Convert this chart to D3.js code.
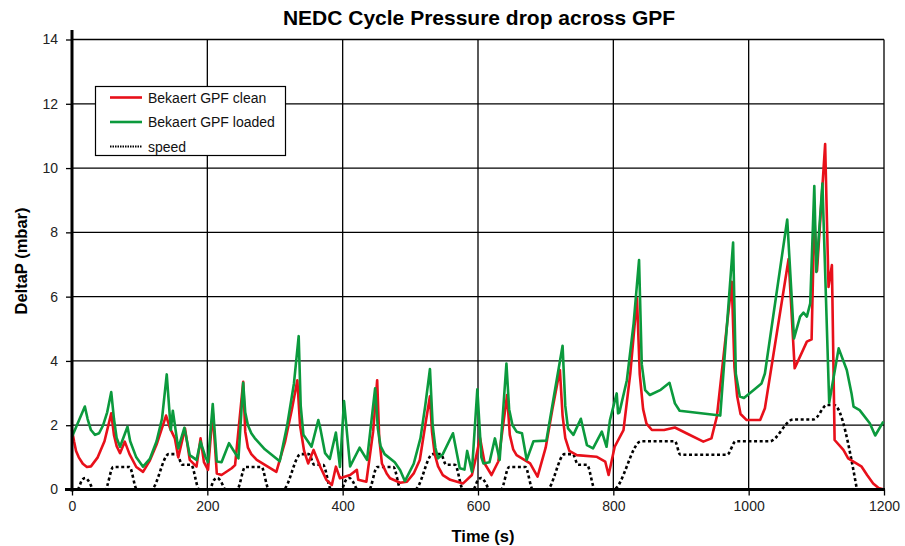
<!DOCTYPE html>
<html>
<head>
<meta charset="utf-8">
<script src="https://cdn.jsdelivr.net/npm/d3@7"></script>
<style>
  html, body { margin: 0; padding: 0; background: #fff; }
  svg { display: block; font-family: "Liberation Sans", Arial, Helvetica, sans-serif; }
</style>
</head>
<body>
<svg id="chart" width="905" height="546"></svg>
<script>
// ---- data (time in s, deltaP in mbar) ----
const cleanT = [0,3,6,10,16,22,28,38,48,58,62,66,71,78,85,95,105,115,125,132,139,145,152,157,167,174,184,190,195,201,208,214,221,236,241,253,256,260,265,273,302,315,325,333,337,343,349,357,367,376,384,390,396,411,421,423,435,445,451,454,458,465,470,485,495,505,514,522,529,532,536,541,548,559,578,591,597,603,610,620,630,643,647,652,657,677,688,700,710,721,725,729,735,746,775,788,793,802,815,825,835,839,844,849,857,875,891,908,933,945,953,975,979,983,988,997,1017,1024,1059,1068,1086,1093,1097,1101,1113,1118,1123,1127,1140,1147,1167,1175,1184,1192,1200];
const cleanV = [1.85,1.5,1.2,1.0,0.8,0.7,0.72,1.0,1.5,2.37,1.7,1.35,1.13,1.49,1.1,0.7,0.55,0.9,1.4,1.85,2.3,1.9,1.59,1.0,1.9,0.92,0.71,1.59,0.85,0.61,2.4,0.5,0.45,0.66,0.76,3.35,1.8,1.3,1.1,0.92,0.55,1.5,2.5,3.4,2.0,1.2,0.81,1.23,0.7,0.3,0.14,0.71,0.35,0.45,0.61,0.3,0.24,1.8,3.4,1.6,0.81,0.5,0.35,0.21,0.24,0.5,0.92,2.0,2.9,1.8,1.1,0.72,0.45,0.3,0.19,0.45,1.0,1.6,0.8,0.45,0.87,2.94,1.7,1.25,1.07,0.81,0.4,1.3,2.5,3.72,2.3,1.6,1.2,1.07,1.02,0.87,0.45,1.33,1.85,3.6,5.95,3.6,2.5,2.05,1.85,1.85,1.93,1.75,1.49,1.59,2.27,6.46,3.8,2.9,2.35,2.16,2.16,2.53,7.17,3.77,4.6,4.67,8.5,6.8,10.75,6.3,6.98,1.54,1.23,0.97,0.71,0.45,0.19,0.05,0.0];

const loadedT = [0,19,23,28,34,40,46,52,58,62,66,71,82,86,95,105,115,125,133,140,146,149,157,166,174,184,190,197,201,208,214,221,232,246,253,256,260,265,270,285,307,318,328,335,338,342,354,364,367,374,381,390,396,402,411,425,436,448,452,456,462,477,485,492,505,515,522,529,533,537,541,548,563,573,580,584,591,599,605,608,617,625,632,642,646,651,657,665,672,682,701,713,725,729,733,741,752,761,770,783,790,795,805,807,809,820,830,838,842,847,854,870,883,891,898,958,977,981,987,993,1007,1019,1024,1057,1067,1076,1081,1086,1091,1097,1100,1109,1119,1133,1145,1152,1155,1164,1179,1187,1199];
const loadedV = [1.64,2.58,2.2,1.85,1.7,1.75,2.0,2.4,3.03,2.2,1.6,1.33,1.95,1.5,1.0,0.71,0.95,1.5,2.2,3.58,1.85,2.45,1.28,1.92,1.07,0.92,1.49,1.02,0.85,2.66,0.87,0.85,1.44,0.97,3.32,2.4,2.0,1.75,1.6,1.25,0.88,2.0,3.3,4.77,2.6,1.7,1.33,2.16,1.9,1.13,0.95,1.77,0.7,2.75,0.72,1.3,0.92,3.15,1.9,1.35,1.1,0.85,0.6,0.26,0.8,1.6,2.6,3.75,2.0,1.3,0.97,1.1,1.75,0.66,0.62,1.2,0.55,3.12,1.0,0.81,0.85,1.59,0.92,3.92,2.5,2.0,1.8,1.75,0.92,1.5,1.52,3.0,4.47,2.6,1.9,1.7,2.2,1.38,1.28,1.8,1.33,2.16,2.99,2.37,2.4,3.4,5.17,7.14,3.9,3.09,2.94,3.1,3.32,2.68,2.45,2.3,7.68,3.6,2.89,2.85,3.09,3.3,3.61,8.4,4.7,5.38,5.5,5.38,5.79,9.44,6.77,9.52,2.7,4.39,3.72,2.99,2.58,2.47,2.06,1.68,2.11];

const speedT = [0,8,15,20,25,32,49,61,85,96,117,143,155,163,176,188,
                203,210,215,220,227,244,256,280,291,312,338,350,358,371,383,
                398,405,410,415,422,439,451,475,486,507,533,545,553,566,578,
                593,600,605,610,617,634,646,670,681,702,728,740,748,761,773,
                800,841,891,899,968,981,1031,1066,1096,1116,1126,1160];
const speedV = [0,0,0.3,0.36,0.25,0,0,0.7,0.7,0,0,1.1,1.1,0.77,0.77,0,
                0,0.3,0.36,0.25,0,0,0.7,0.7,0,0,1.1,1.1,0.77,0.77,0,
                0,0.3,0.36,0.25,0,0,0.7,0.7,0,0,1.1,1.1,0.77,0.77,0,
                0,0.3,0.36,0.25,0,0,0.7,0.7,0,0,1.1,1.1,0.77,0.77,0,
                0,1.5,1.5,1.08,1.08,1.5,1.5,2.18,2.18,2.63,2.63,0];

const xTicks = [0,200,400,600,800,1000,1200];
const yTicks = [0,2,4,6,8,10,12,14];
const seriesNames = ["Bekaert GPF clean","Bekaert GPF loaded","speed"];
const titleText = "NEDC Cycle Pressure drop across GPF";
const xLabel = "Time (s)";
const yLabel = "DeltaP (mbar)";

// ---- drawing ----
const svg = d3.select("#chart");
const L = 72, R = 884, T = 39.5, B = 489.5;
const x = d3.scaleLinear().domain([0,1200]).range([L,R]);
const y = d3.scaleLinear().domain([0,14]).range([B,T]);

const RED = "#e8101a", GREEN = "#0b9a3d";

// grid
const grid = svg.append("g");
grid.selectAll("line.gx").data(xTicks.filter(d=>d>0)).enter().append("line")
  .attr("x1", d=>x(d)).attr("x2", d=>x(d)).attr("y1", T).attr("y2", B)
  .attr("stroke", "#000").attr("stroke-width", 1.3);
grid.selectAll("line.gy").data(yTicks.filter(d=>d>0)).enter().append("line")
  .attr("x1", L).attr("x2", R).attr("y1", d=>y(d)).attr("y2", d=>y(d))
  .attr("stroke", "#000").attr("stroke-width", 1.3);

// axes
const xAxis = d3.axisBottom(x).tickValues(xTicks).tickSize(6).tickPadding(6).tickFormat(d3.format("d"));
const yAxis = d3.axisLeft(y).tickValues(yTicks).tickSize(6).tickPadding(8).tickFormat(d3.format("d"));
const gx = svg.append("g").attr("transform", `translate(0,${B})`).call(xAxis);
const gy = svg.append("g").attr("transform", `translate(${L},0)`).call(yAxis);
[gx, gy].forEach(g => {
  g.select(".domain").remove();
  g.selectAll(".tick line").attr("stroke", "#000").attr("stroke-width", 1.3);
  g.selectAll(".tick text").attr("fill", "#222").style("font-size", "14px")
    .style("font-family", "'Liberation Sans', Arial, sans-serif");
});

// lines
const mk = (T_, V_) => T_.map((t,i)=>({t, v:V_[i]}));
const smooth = d3.line().x(d=>x(d.t)).y(d=>y(d.v)).curve(d3.curveMonotoneX);
const lin = d3.line().x(d=>x(d.t)).y(d=>y(d.v)).curve(d3.curveLinear);

svg.append("path").datum(mk(speedT, speedV)).attr("d", smooth)
  .attr("fill","none").attr("stroke","#000").attr("stroke-width",2.6)
  .attr("stroke-dasharray","3,2.6");
svg.append("path").datum(mk(cleanT, cleanV)).attr("d", lin)
  .attr("fill","none").attr("stroke",RED).attr("stroke-width",2.6).attr("stroke-linejoin","round");
svg.append("path").datum(mk(loadedT, loadedV)).attr("d", lin)
  .attr("fill","none").attr("stroke",GREEN).attr("stroke-width",2.6).attr("stroke-linejoin","round");

// axis lines (thick)
svg.append("line").attr("x1", L).attr("x2", L).attr("y1", 30).attr("y2", B+2)
  .attr("stroke","#000").attr("stroke-width",3);
svg.append("line").attr("x1", 65).attr("x2", R+1).attr("y1", B).attr("y2", B)
  .attr("stroke","#000").attr("stroke-width",3);

// legend
const lg = svg.append("g");
lg.append("rect").attr("x",95.5).attr("y",86.5).attr("width",190).attr("height",69)
  .attr("fill","#fff").attr("stroke","#000").attr("stroke-width",1.2);
const legendStyles = [
  {c:RED, w:2.6, dash:null},
  {c:GREEN, w:2.6, dash:null},
  {c:"#000", w:2.2, dash:"1.5,1"}
];
seriesNames.forEach((name,i)=>{
  const yy = 97.5 + i*24.5;
  const ln = lg.append("line").attr("x1",110).attr("x2",142).attr("y1",yy).attr("y2",yy)
    .attr("stroke",legendStyles[i].c).attr("stroke-width",legendStyles[i].w);
  if (legendStyles[i].dash) ln.attr("stroke-dasharray",legendStyles[i].dash);
  lg.append("text").attr("x",148).attr("y",yy+5).text(name)
    .style("font-size","14px").attr("fill","#111");
});

// titles
svg.append("text").attr("x",479).attr("y",25).attr("text-anchor","middle")
  .style("font-size","21px").style("font-weight","bold").text(titleText);
svg.append("text").attr("x",483).attr("y",541.5).attr("text-anchor","middle")
  .style("font-size","16.5px").style("font-weight","bold").text(xLabel);
svg.append("text").attr("transform","translate(27,261) rotate(-90)").attr("text-anchor","middle")
  .style("font-size","16.5px").style("font-weight","bold").text(yLabel);
</script>
</body>
</html>
